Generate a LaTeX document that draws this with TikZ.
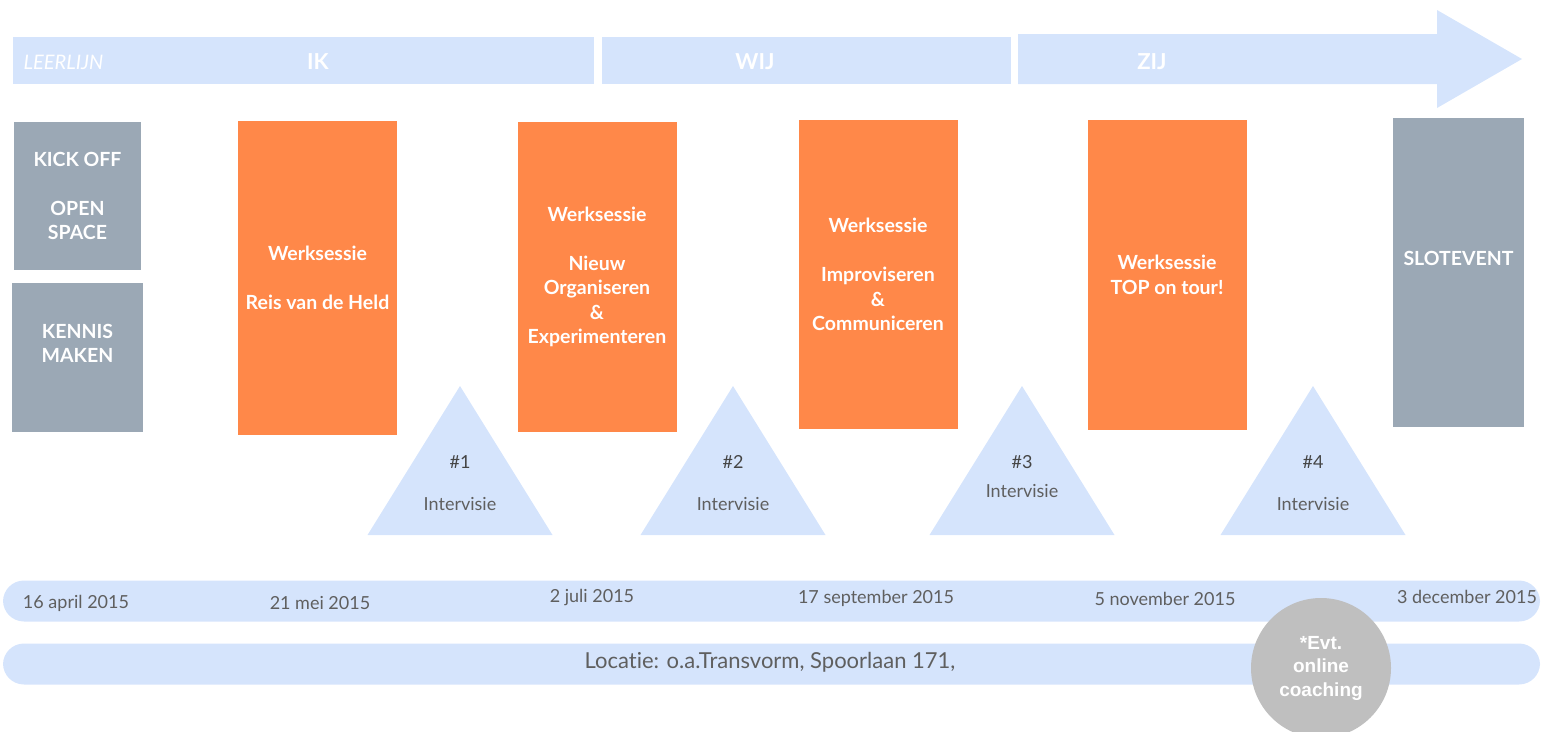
\documentclass[tikz,border=0pt]{standalone}
\usepackage{fontspec}
\setmainfont{Lato}[Ligatures=NoCommon]
\newfontfamily\arialfont{Liberation Sans}
\definecolor{lichtblauw}{HTML}{D5E4FC}
\definecolor{oranje}{HTML}{FF8849}
\definecolor{grijsblauw}{HTML}{9BA8B5}
\definecolor{tekstgrijs}{HTML}{5F5F5F}
\definecolor{nummergrijs}{HTML}{454545}
\definecolor{cirkelgrijs}{HTML}{BFBFBF}
\begin{document}
\begin{tikzpicture}[
	x=1pt,y=-1pt,
	blok/.style={inner sep=0pt,text=white,align=center,font=\fontsize{19.5}{24.5}\selectfont\bfseries},
	sessie/.style={blok,fill=oranje,minimum width=159pt},
	event/.style={blok,fill=grijsblauw},
	kop/.style={text=white,font=\fontsize{22}{24}\selectfont\bfseries},
	datum/.style={text=tekstgrijs,font=\fontsize{18}{22}\selectfont},
	balk/.style={fill=lichtblauw,rounded corners=21pt,minimum width=1537pt,minimum height=41pt,inner sep=0pt}
	]
	\useasboundingbox (0,0) rectangle (1542,731);
	
	% leerlijn
	\fill[lichtblauw] (13,37) rectangle (594,84);
	\fill[lichtblauw] (602,37) rectangle (1011,84);
	\fill[lichtblauw] (1018,34) -- (1437,34) -- (1437,10) -- (1522,59) -- (1437,108) -- (1437,84) -- (1018,84) -- cycle;
	\node[text=white,font=\fontsize{20}{22}\selectfont\itshape,anchor=west] (leerlijn) at (20,62) {LEERLIJN};
	\node[kop] (ik) at (318,62) {IK};
	\node[kop] (wij) at (755,62) {WIJ};
	\node[kop] (zij) at (1152,62) {ZIJ};
	
	% kick off en slot
	\node[event,minimum width=127pt,minimum height=148pt] (kickoff) at (77.5,196) {KICK OFF\\[\baselineskip]OPEN\\SPACE};
	\node[event,minimum width=131pt,minimum height=149pt] (kennis) at (77.5,357.5) {};
	\node[blok] at ([yshift=14pt]kennis.center) {KENNIS\\MAKEN};
	\node[event,minimum width=131pt,minimum height=309pt] (slot) at (1458.5,272.5) {};
	\node[blok] at ([yshift=14pt]slot.center) {SLOTEVENT};
	
	% werksessies
	\node[sessie,minimum height=314pt] (s1) at (317.5,278) {Werksessie\\[\baselineskip]Reis van de Held};
	\node[sessie,minimum height=310pt] (s2) at (597,277) {Werksessie\\[\baselineskip]Nieuw\\Organiseren\\\&\\Experimenteren};
	\node[sessie,minimum height=309pt] (s3) at (878,274.5) {Werksessie\\[\baselineskip]Improviseren\\\&\\Communiceren};
	\node[sessie,minimum height=310pt] (s4) at (1167,275) {Werksessie\\TOP on tour!};
	
	% intervisie
	\foreach \x/\n/\iy in {460/1/504,733/2/504,1022/3/491,1313/4/504}{
		\fill[lichtblauw] (\x,386) -- (\x+92.5,535) -- (\x-92.5,535) -- cycle;
		\node[text=nummergrijs,font=\fontsize{18}{22}\selectfont] (nr\n) at (\x,462) {\#\n};
		\node[datum] (int\n) at (\x,\iy) {Intervisie};
	}
	
	% data en locatie
	\node[balk] (datums) at (771.5,601) {};
	\node[datum] (d1) at (76,603) {16 april 2015};
	\node[datum] (d2) at (320,603) {21 mei 2015};
	\node[datum] (d3) at (592,598) {2 juli 2015};
	\node[datum] (d4) at (876,598) {17 september 2015};
	\node[datum] (d5) at (1165,599) {5 november 2015};
	\node[datum] (d6) at (1467,597) {3 december 2015};
	\node[balk] (locatie) at (771.5,664) {};
	\node[datum,font=\fontsize{22}{24}\selectfont] (loc) at (770,662) {Locatie: o.a.Transvorm, Spoorlaan 171,};
	
	\node[circle,fill=cirkelgrijs,minimum size=140pt,inner sep=0pt] (coaching) at (1321,668) {};
	\node[text=white,align=center,font=\arialfont\fontsize{19}{23.5}\selectfont\bfseries] at (coaching.center) {*Evt.\\online\\coaching};
\end{tikzpicture}
\end{document}
